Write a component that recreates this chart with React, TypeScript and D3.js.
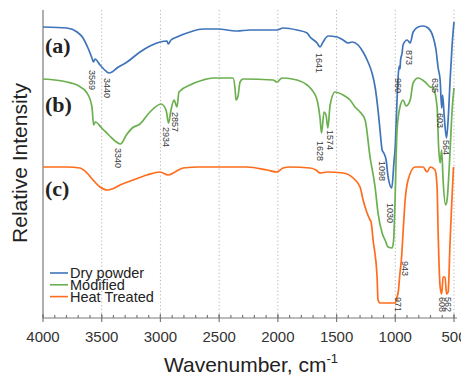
import React, { useEffect, useRef } from 'react';
import * as d3 from 'd3';

// [wavenumber cm-1, relative intensity (a.u.)]
const dryPowder: [number, number][] = [
  [4000, 291], [3796, 290], [3710, 286], [3659, 280], [3617, 270], [3583, 260], [3570, 256], [3557, 259],
  [3514, 253], [3455, 246], [3440, 245], [3412, 246], [3370, 250], [3284, 256], [3174, 266], [3089, 272],
  [3003, 276], [2944, 277], [2934, 274], [2910, 278], [2859, 281], [2748, 286], [2637, 289], [2518, 289],
  [2347, 287], [2237, 288], [2007, 288], [1956, 290], [1837, 288], [1751, 285], [1726, 281], [1666, 275],
  [1641, 271], [1615, 276], [1572, 282], [1496, 281], [1445, 278], [1402, 275], [1368, 276], [1317, 273],
  [1274, 266], [1232, 256], [1198, 245], [1172, 231], [1147, 208], [1130, 188], [1112, 168], [1098, 165],
  [1078, 158], [1061, 141], [1030, 130], [1010, 158], [1002, 168], [985, 218], [976, 241], [967, 252],
  [960, 249], [955, 258], [942, 265], [934, 273], [899, 278], [873, 275], [848, 286], [806, 291], [763, 292],
  [721, 290], [678, 281], [653, 268], [635, 250], [618, 238], [605, 210], [597, 223], [584, 203], [564, 180],
  [550, 198], [533, 238], [516, 273], [500, 296],
];

const modified: [number, number][] = [
  [4000, 239], [3796, 236], [3710, 233], [3625, 225], [3583, 211], [3569, 193], [3555, 196], [3500, 190],
  [3440, 183], [3375, 176], [3340, 174], [3290, 183], [3240, 190], [3174, 194], [3089, 206], [2995, 214],
  [2952, 208], [2931, 195], [2910, 208], [2884, 218], [2859, 211], [2842, 226], [2748, 233], [2637, 238],
  [2552, 240], [2382, 240], [2365, 230], [2356, 218], [2339, 222], [2322, 236], [2296, 239], [2041, 238],
  [2007, 236], [1964, 240], [1837, 238], [1751, 233], [1709, 228], [1666, 218], [1641, 200], [1628, 185],
  [1607, 206], [1590, 203], [1574, 190], [1555, 213], [1513, 226], [1445, 223], [1385, 218], [1343, 211],
  [1300, 206], [1257, 198], [1215, 161], [1172, 131], [1147, 105], [1112, 85], [1087, 78], [1061, 71],
  [1027, 70], [1014, 78], [1002, 118], [985, 188], [960, 211], [934, 218], [908, 212], [873, 218],
  [848, 235], [806, 240], [746, 236], [703, 231], [678, 230], [644, 211], [631, 171], [618, 155],
  [605, 168], [593, 138], [571, 113], [559, 118], [533, 168], [516, 208], [500, 230],
];

const heatTreated: [number, number][] = [
  [4000, 151], [3796, 151], [3685, 150], [3625, 145], [3574, 138], [3514, 131], [3455, 128], [3412, 129],
  [3344, 133], [3233, 138], [3114, 143], [3003, 146], [2935, 143], [2876, 146], [2807, 150], [2663, 151],
  [2262, 151], [2092, 148], [2007, 146], [1956, 150], [1896, 151], [1726, 150], [1675, 148], [1641, 145],
  [1581, 146], [1445, 145], [1359, 140], [1300, 131], [1274, 118], [1240, 105], [1215, 98], [1206, 96],
  [1189, 78], [1155, 41], [1147, 18], [1130, 15], [1002, 15], [985, 21], [976, 25], [960, 45], [947, 60],
  [934, 85], [916, 118], [891, 138], [831, 151], [763, 151], [729, 146], [703, 151], [661, 148], [644, 131],
  [635, 85], [618, 31], [605, 24], [593, 41], [576, 41], [564, 24], [550, 26], [533, 78], [516, 123],
  [504, 151],
];

const seriesNames = ['Dry powder', 'Modified', 'Heat Treated'];
const seriesColors = ['#3f74ba', '#6bb04f', '#ff6c1c'];

const xTicks = [4000, 3500, 3000, 2500, 2000, 1500, 1000, 500];
const minorTicks = d3.range(4000, 499, -100);

// [text, anchor wavenumber, top of label (a.u.)]
const peakLabels: [string, number, number][] = [
  ['3569', 3580, 248], ['3440', 3455, 240], ['3340', 3360, 170], ['2934', 2950, 191], ['2857', 2875, 206],
  ['1641', 1650, 265], ['1628', 1640, 177], ['1574', 1560, 188], ['1098', 1115, 157], ['1030', 1045, 115],
  ['960', 975, 240], ['873', 885, 268], ['943', 915, 57], ['971', 978, 21], ['635', 660, 240],
  ['603', 615, 205], ['564', 572, 178], ['608', 600, 21], ['562', 555, 21],
];

const panelTags: [string, number][] = [['(a)', 265], ['(b)', 206], ['(c)', 122]];

const W = 461;
const H = 376;
const left = 43, right = 454, top = 10, bottom = 318;
const sans = '"Liberation Sans", Arial, Helvetica, sans-serif';

export default function App() {
  const svgRef = useRef<SVGSVGElement>(null);

  useEffect(() => {
    if (!svgRef.current) return;
    const svg = d3.select(svgRef.current);
    svg.selectAll('*').remove();

    const x = d3.scaleLinear().domain([4000, 500]).range([left, right]);
    const y = d3.scaleLinear().domain([0, 308]).range([bottom, top]);

    // dotted grid
    svg.append('g')
      .selectAll('line')
      .data(xTicks.slice(1))
      .join('line')
      .attr('x1', d => x(d)).attr('x2', d => x(d))
      .attr('y1', top).attr('y2', bottom)
      .attr('stroke', '#b4b4b4')
      .attr('stroke-width', 1)
      .attr('stroke-dasharray', '1.2,2.4');

    // axes
    const ax = svg.append('g').attr('stroke', '#7a7a7a').attr('stroke-width', 1.2);
    ax.append('line').attr('x1', left).attr('x2', left).attr('y1', top).attr('y2', bottom);
    ax.append('line').attr('x1', left).attr('x2', right + 3).attr('y1', bottom).attr('y2', bottom);
    ax.selectAll('.minor')
      .data(minorTicks)
      .join('line')
      .attr('class', 'minor')
      .attr('x1', d => x(d)).attr('x2', d => x(d))
      .attr('y1', bottom - 3).attr('y2', bottom);
    ax.selectAll('.major')
      .data(xTicks)
      .join('line')
      .attr('class', 'major')
      .attr('x1', d => x(d)).attr('x2', d => x(d))
      .attr('y1', bottom - 4).attr('y2', bottom + 4);

    svg.append('g')
      .selectAll('text')
      .data(xTicks)
      .join('text')
      .attr('x', d => x(d))
      .attr('y', 342)
      .attr('text-anchor', 'middle')
      .attr('font-family', sans)
      .attr('font-size', 15)
      .attr('fill', '#333')
      .text(d => d);

    // spectra
    const line = d3.line<[number, number]>()
      .x(d => x(d[0]))
      .y(d => y(d[1]))
      .curve(d3.curveMonotoneX);

    [dryPowder, modified, heatTreated].forEach((s, i) => {
      svg.append('path')
        .datum(s)
        .attr('d', line)
        .attr('fill', 'none')
        .attr('stroke', seriesColors[i])
        .attr('stroke-width', 1.7)
        .attr('stroke-linejoin', 'round');
    });

    // peak labels (rotated, reading downward)
    svg.append('g')
      .selectAll('text')
      .data(peakLabels)
      .join('text')
      .attr('transform', d => `translate(${x(d[1])},${y(d[2])}) rotate(90)`)
      .attr('dominant-baseline', 'central')
      .attr('font-family', sans)
      .attr('font-size', 9)
      .attr('fill', '#3a3a3a')
      .text(d => d[0]);

    // panel tags
    svg.append('g')
      .selectAll('text')
      .data(panelTags)
      .join('text')
      .attr('x', 45)
      .attr('y', d => y(d[1]))
      .attr('font-family', '"Liberation Serif", "Times New Roman", serif')
      .attr('font-weight', 'bold')
      .attr('font-size', 22)
      .attr('fill', '#222')
      .text(d => d[0]);

    // legend
    const lg = svg.append('g');
    seriesNames.forEach((name, i) => {
      const ly = 273 + i * 11.8;
      lg.append('line')
        .attr('x1', 50).attr('x2', 68).attr('y1', ly).attr('y2', ly)
        .attr('stroke', seriesColors[i]).attr('stroke-width', 1.6);
      lg.append('text')
        .attr('x', 70).attr('y', ly + 5)
        .attr('font-family', sans)
        .attr('font-size', 14.5)
        .attr('fill', '#222')
        .text(name);
    });

    // axis titles
    const xt = svg.append('text')
      .attr('x', 251)
      .attr('y', 372)
      .attr('text-anchor', 'middle')
      .attr('font-family', sans)
      .attr('font-size', 21)
      .attr('fill', '#222');
    xt.append('tspan').text('Wavenumber, cm');
    xt.append('tspan').attr('dy', -9).attr('font-size', 13).text('-1');

    svg.append('text')
      .attr('transform', `translate(27,163) rotate(-90)`)
      .attr('text-anchor', 'middle')
      .attr('font-family', sans)
      .attr('font-size', 21)
      .attr('fill', '#222')
      .text('Relative Intensity');
  }, []);

  return (
    <svg
      ref={svgRef}
      width={W}
      height={H}
      style={{ position: 'absolute', left: 0, top: 0, background: '#fff' }}
    />
  );
}
